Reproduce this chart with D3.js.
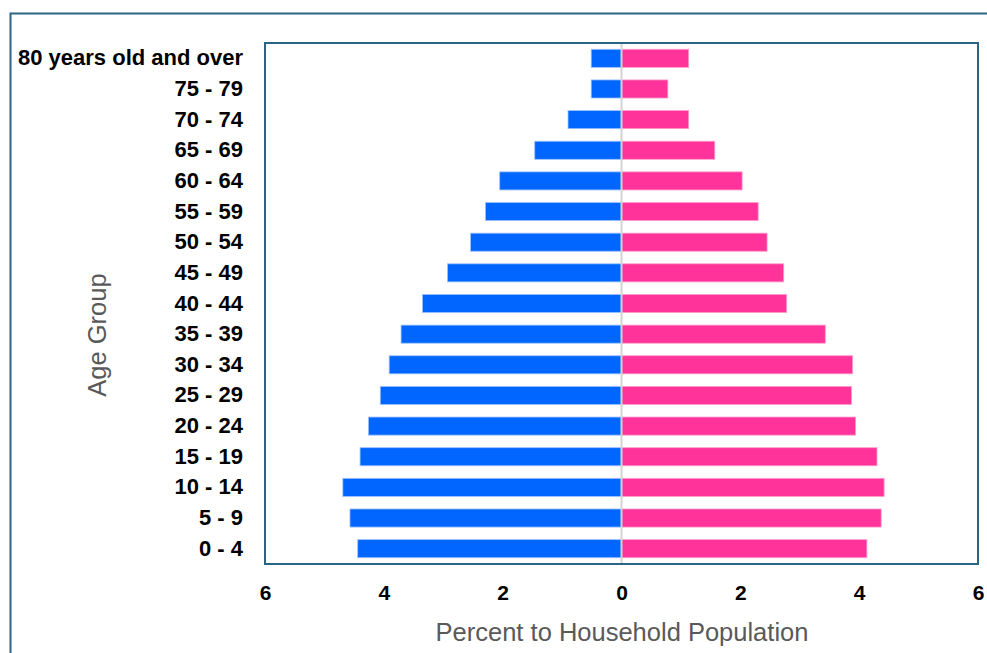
<!DOCTYPE html>
<html><head><meta charset="utf-8">
<script src="https://cdn.jsdelivr.net/npm/d3@7"></script>
<style>
html,body{margin:0;padding:0;background:#fff;}
svg{display:block;}
</style></head>
<body>
<svg id="chart" width="987" height="653"></svg>
<script>
const ageGroups = ["80 years old and over","75 - 79","70 - 74","65 - 69","60 - 64","55 - 59","50 - 54","45 - 49","40 - 44","35 - 39","30 - 34","25 - 29","20 - 24","15 - 19","10 - 14","5 - 9","0 - 4"];
const maleValues = [0.51,0.51,0.90,1.46,2.05,2.29,2.54,2.93,3.35,3.71,3.91,4.06,4.26,4.40,4.69,4.57,4.44];
const femaleValues = [1.13,0.78,1.13,1.57,2.03,2.30,2.45,2.73,2.78,3.43,3.89,3.87,3.94,4.30,4.42,4.37,4.13];
const xTicks = [-6,-4,-2,0,2,4,6];

const svg = d3.select("#chart");
const font = "'Liberation Sans', Arial, sans-serif";
const borderColor = "#2B6584";

// outer chart border
svg.append("rect").attr("x",10.5).attr("y",13.5).attr("width",1000).attr("height",700)
  .attr("fill","none").attr("stroke",borderColor).attr("stroke-width",2);

const plot = {left:265, right:978, top:43, bottom:564};
const x = d3.scaleLinear().domain([-6,6]).range([plot.left, plot.right]);
const y = d3.scaleBand().domain(ageGroups).range([plot.top, plot.bottom]).paddingInner(0.41).paddingOuter(0.205);

// bars
const g = svg.append("g");
g.selectAll("rect.male").data(ageGroups).join("rect").attr("class","male")
  .attr("x",(d,i)=>x(-maleValues[i])).attr("width",(d,i)=>x(0)-x(-maleValues[i]))
  .attr("y",d=>y(d)).attr("height",y.bandwidth())
  .attr("fill","#0066FF").attr("stroke","#9CC2FF").attr("stroke-width",0.8);
g.selectAll("rect.female").data(ageGroups).join("rect").attr("class","female")
  .attr("x",x(0)).attr("width",(d,i)=>x(femaleValues[i])-x(0))
  .attr("y",d=>y(d)).attr("height",y.bandwidth())
  .attr("fill","#FF3399").attr("stroke","#FF9CCB").attr("stroke-width",0.8);

// center line
svg.append("line").attr("x1",x(0)).attr("x2",x(0)).attr("y1",plot.top).attr("y2",plot.bottom)
  .attr("stroke","#D3D3D3").attr("stroke-width",2);

// plot border
svg.append("rect").attr("x",plot.left).attr("y",plot.top)
  .attr("width",plot.right-plot.left).attr("height",plot.bottom-plot.top)
  .attr("fill","none").attr("stroke",borderColor).attr("stroke-width",2);

// x axis
const xAxis = d3.axisBottom(x).tickValues(xTicks).tickFormat(d=>Math.abs(d)).tickSize(0).tickPadding(0);
const xa = svg.append("g").attr("transform",`translate(0,${plot.bottom+21})`).call(xAxis);
xa.select(".domain").remove();
xa.selectAll("text").attr("font-family",font).attr("font-weight","bold").attr("font-size",21).attr("fill","#000").attr("dy","0.71em");

// y axis
const yAxis = d3.axisLeft(y).tickSize(0).tickPadding(0);
const ya = svg.append("g").attr("transform",`translate(${plot.left-22},0)`).call(yAxis);
ya.select(".domain").remove();
ya.selectAll("text").attr("font-family",font).attr("font-weight","bold").attr("font-size",22).attr("fill","#000");

// axis titles
svg.append("text").attr("x",622).attr("y",641).attr("text-anchor","middle")
  .attr("font-family",font).attr("font-size",25.5).attr("fill","#595959")
  .text("Percent to Household Population");
svg.append("text").attr("transform","translate(106,335) rotate(-90)").attr("text-anchor","middle")
  .attr("font-family",font).attr("font-size",25.5).attr("fill","#595959")
  .text("Age Group");
</script>
</body></html>
